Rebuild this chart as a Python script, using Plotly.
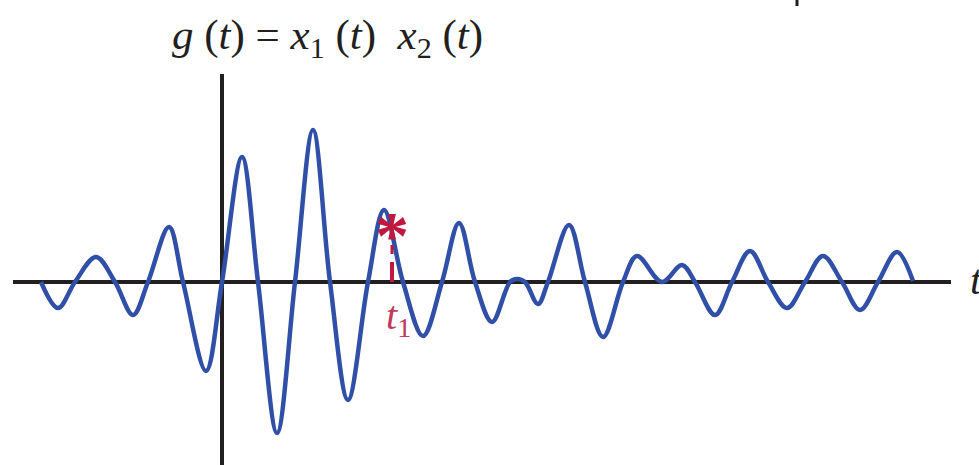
import plotly.graph_objects as go

# Signal g(t) = x1(t) x2(t): extremes and axis crossings of the waveform
t_vals = [-1.81, -1.64, -1.47, -1.26, -1.07, -0.89, -0.74, -0.53, -0.39, -0.16,
          0.00, 0.20, 0.36, 0.55, 0.73, 0.91, 1.08, 1.26, 1.46, 1.62,
          1.81, 2.01, 2.20, 2.37, 2.53, 2.70, 2.88, 2.95, 3.03, 3.16,
          3.26, 3.47, 3.63, 3.81, 4.01, 4.15, 4.40, 4.60, 4.73, 4.93,
          5.10, 5.28, 5.46, 5.65, 5.83, 6.01, 6.20, 6.38, 6.56, 6.75, 6.91]
g_vals = [0.00, -0.26, 0.00, 0.25, 0.00, -0.33, 0.00, 0.55, 0.00, -0.89,
          0.00, 1.25, 0.00, -1.51, 0.00, 1.52, 0.00, -1.18, 0.00, 0.72,
          0.00, -0.54, 0.00, 0.59, 0.00, -0.40, 0.00, 0.03, 0.00, -0.22,
          0.00, 0.57, 0.00, -0.55, 0.00, 0.26, 0.00, 0.17, 0.00, -0.33,
          0.00, 0.31, 0.00, -0.26, 0.00, 0.26, 0.00, -0.28, 0.00, 0.30, 0.01]

# Marked instant t1
t1 = 1.70
star_g = 0.55

axis_color = "#231f20"
wave_color = "#3050a8"
mark_color = "#c0183f"
serif = "Liberation Serif, Times New Roman, serif"

fig = go.Figure()

fig.add_trace(go.Scatter(
    x=t_vals, y=g_vals, mode="lines",
    line=dict(color=wave_color, width=4.5, shape="spline", smoothing=1.0),
    hoverinfo="skip", showlegend=False,
))

shapes = [
    # horizontal t axis
    dict(type="line", x0=-2.09, x1=7.29, y0=0, y1=0,
         line=dict(color=axis_color, width=4), layer="below"),
    # vertical axis
    dict(type="line", x0=0, x1=0, y0=-1.90, y1=2.08,
         line=dict(color=axis_color, width=4), layer="below"),
    # small tick at the top edge
    dict(type="line", x0=5.75, x1=5.75, y0=2.76, y1=2.90,
         line=dict(color=axis_color, width=3)),
    # dashed marker under the asterisk
    dict(type="line", x0=t1, x1=t1, y0=0.20, y1=0.0,
         line=dict(color=mark_color, width=4)),
    dict(type="line", x0=t1, x1=t1, y0=0.37, y1=0.28,
         line=dict(color=mark_color, width=3)),
]

annotations = [
    dict(x=1.055, y=2.44, xref="x", yref="y", showarrow=False,
         text="<i>g</i> (<i>t</i>) = <i>x</i><sub>1</sub> (<i>t</i>)  <i>x</i><sub>2</sub> (<i>t</i>)",
         font=dict(family=serif, size=43, color=axis_color)),
    dict(x=7.46, y=0.02, xref="x", yref="y", showarrow=False, xanchor="left",
         text="<i>t</i>",
         font=dict(family=serif, size=42, color=axis_color)),
    dict(x=t1 + 0.06, y=-0.36, xref="x", yref="y", showarrow=False,
         text="<i>t</i><sub>1</sub>",
         font=dict(family=serif, size=40, color="#c23a5c")),
    dict(x=t1, y=star_g, xref="x", yref="y", showarrow=False,
         text="<b>*</b>", yshift=-8,
         font=dict(family=serif, size=68, color=mark_color)),
]

fig.update_layout(
    width=979, height=465,
    margin=dict(l=0, r=0, t=0, b=0),
    paper_bgcolor="white", plot_bgcolor="white",
    xaxis=dict(range=[-2.22, 7.57], visible=False, fixedrange=True),
    yaxis=dict(range=[-1.83, 2.82], visible=False, fixedrange=True),
    shapes=shapes, annotations=annotations,
)

fig.write_html("out.html")
